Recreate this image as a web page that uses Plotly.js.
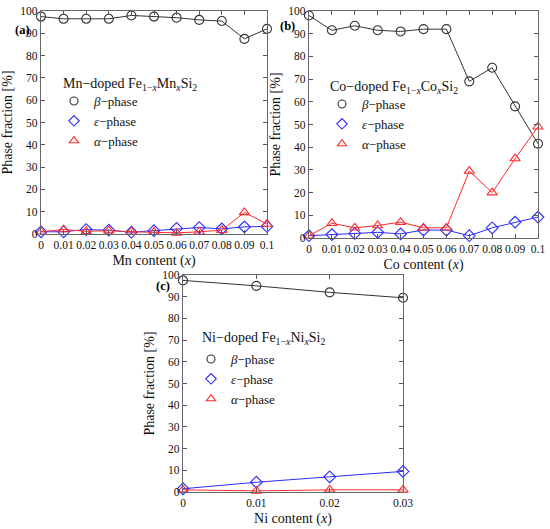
<!DOCTYPE html>
<html>
<head>
<meta charset="utf-8">
<script src="https://cdn.plot.ly/plotly-3.0.1.min.js"></script>
<style>html,body{margin:0;padding:0;background:#fff;}#plot{width:550px;height:529px;}</style>
</head>
<body>
<div id="plot"></div>
<script>
// Panel (a): Mn-doped
const xMn = [0, 0.01, 0.02, 0.03, 0.04, 0.05, 0.06, 0.07, 0.08, 0.09, 0.1];
const betaMn = [97.5, 96.5, 96.5, 96.5, 98, 97.5, 97, 96, 95.5, 87.5, 92];
const epsMn = [1, 1, 2, 1.7, 0.8, 1.5, 2.5, 2.9, 2.3, 3.2, 3.4];
const alphaMn = [1, 2, 1.2, 1.5, 1, 0.9, 0.5, 1, 1.7, 9.7, 4.5];
// Panel (b): Co-doped
const xCo = [0, 0.01, 0.02, 0.03, 0.04, 0.05, 0.06, 0.07, 0.08, 0.09, 0.1];
const betaCo = [98, 91.5, 93.5, 91.5, 91, 92, 92, 69, 75, 58, 41.5];
const epsCo = [1, 1.5, 2, 2.5, 1.8, 3.5, 3.5, 1, 4.5, 7, 9.2];
const alphaCo = [1, 6.5, 4.5, 5.5, 7, 4.5, 4.5, 29.5, 20, 35, 49];
// Panel (c): Ni-doped
const xNi = [0, 0.01, 0.02, 0.03];
const betaNi = [97.5, 95, 92, 89.5];
const epsNi = [1.5, 4.5, 7, 9.5];
const alphaNi = [1, 0.5, 1, 1];

const xTicksMn = [0, 0.01, 0.02, 0.03, 0.04, 0.05, 0.06, 0.07, 0.08, 0.09, 0.1];
const xTickTextMn = ['0', '0.01', '0.02', '0.03', '0.04', '0.05', '0.06', '0.07', '0.08', '0.09', '0.1'];
const xTicksNi = [0, 0.01, 0.02, 0.03];
const xTickTextNi = ['0', '0.01', '0.02', '0.03'];
const yTicks = [0, 10, 20, 30, 40, 50, 60, 70, 80, 90, 100];

const phaseNames = ['<i>β</i>−phase', '<i>ε</i>−phase', '<i>α</i>−phase'];
const colors = ['#333333', '#2b2bff', '#ff2b2b'];
const symbols = ['circle-open', 'diamond-open', 'triangle-up-open'];
const sizes = [9, 9, 9];

const FONT = 'Liberation Serif';
const W = 550, H = 529;

const traces = [];
function addPanel(xs, series, xa, ya, legName) {
  series.forEach((ys, i) => {
    traces.push({
      type: 'scatter', mode: 'lines+markers', x: xs, y: ys, xaxis: xa, yaxis: ya,
      line: {color: colors[i], width: 1},
      marker: {symbol: symbols[i], size: sizes[i], color: colors[i], line: {width: 1.1, color: colors[i]}},
      showlegend: false, cliponaxis: false
    });
  });
  series.forEach((ys, i) => {
    traces.push({
      type: 'scatter', mode: 'markers', x: [null], y: [null], xaxis: xa, yaxis: ya,
      name: phaseNames[i], legend: legName,
      marker: {symbol: symbols[i], size: 8, color: colors[i], line: {width: 1.1, color: colors[i]}},
      showlegend: true
    });
  });
}
addPanel(xMn, [betaMn, epsMn, alphaMn], 'x', 'y', 'legend');
addPanel(xCo, [betaCo, epsCo, alphaCo], 'x2', 'y2', 'legend2');
addPanel(xNi, [betaNi, epsNi, alphaNi], 'x3', 'y3', 'legend3');

function px(x) { return x / W; }
function py(y) { return 1 - y / H; }

function xAxis(domain, anchor, range, tv, tt, title) {
  return {
    domain: domain, anchor: anchor, range: range, tickvals: tv, ticktext: tt, tickangle: 0,
    ticks: 'inside', ticklen: 4, tickcolor: '#555', mirror: 'ticks', showline: true, linecolor: '#666', linewidth: 1.3,
    showgrid: false, zeroline: false, tickfont: {family: FONT, size: 11.5, color: '#111'},
    title: {text: title, font: {family: FONT, size: 14, color: '#111'}, standoff: 5}, automargin: false
  };
}
function yAxis(domain, anchor) {
  return {
    domain: domain, anchor: anchor, range: [0, 100], tickvals: yTicks,
    ticks: 'inside', ticklen: 4, tickcolor: '#555', mirror: 'ticks', showline: true, linecolor: '#666', linewidth: 1.3,
    showgrid: false, zeroline: false, tickfont: {family: FONT, size: 11.5, color: '#111'},
    title: {text: 'Phase fraction [%]', font: {family: FONT, size: 14, color: '#111'}, standoff: 4}, automargin: false
  };
}

const legendStyle = (x, y) => ({
  x: x, y: y, xanchor: 'left', yanchor: 'top', bgcolor: 'rgba(0,0,0,0)',
  font: {family: FONT, size: 13, color: '#111'}, itemwidth: 30, tracegroupgap: 0
});

const layout = {
  width: W, height: H, margin: {l: 0, r: 0, t: 0, b: 0},
  paper_bgcolor: '#fff', plot_bgcolor: '#fff', showlegend: true,
  font: {family: FONT, color: '#111'},
  xaxis: xAxis([px(41), px(267)], 'y', [0, 0.1], xTicksMn, xTickTextMn, 'Mn content (<i>x</i>)'),
  yaxis: yAxis([py(234), py(11)], 'x'),
  xaxis2: xAxis([px(309), px(538)], 'y2', [0, 0.1], xTicksMn, xTickTextMn, 'Co content (<i>x</i>)'),
  yaxis2: yAxis([py(238), py(11)], 'x2'),
  xaxis3: xAxis([px(183), px(403)], 'y3', [0, 0.03], xTicksNi, xTickTextNi, 'Ni content (<i>x</i>)'),
  yaxis3: yAxis([py(492), py(275)], 'x3'),
  legend: legendStyle(px(54), py(86)),
  legend2: legendStyle(px(322), py(89)),
  legend3: legendStyle(px(191), py(344)),
  annotations: [
    {text: '<b>(a)</b>', x: px(13), y: py(21), xref: 'paper', yref: 'paper', showarrow: false, font: {family: FONT, size: 12.5, color: '#000'}},
    {text: '<b>(b)</b>', x: px(287), y: py(17), xref: 'paper', yref: 'paper', showarrow: false, font: {family: FONT, size: 12.5, color: '#000'}},
    {text: '<b>(c)</b>', x: px(154), y: py(286), xref: 'paper', yref: 'paper', showarrow: false, font: {family: FONT, size: 12.5, color: '#000'}},
    {text: 'Mn−doped Fe<sub>1−<i>x</i></sub>Mn<sub><i>x</i></sub>Si<sub>2</sub>', x: px(61), y: py(74), xref: 'paper', yref: 'paper', xanchor: 'left', showarrow: false, font: {family: FONT, size: 14, color: '#111'}},
    {text: 'Co−doped Fe<sub>1−<i>x</i></sub>Co<sub><i>x</i></sub>Si<sub>2</sub>', x: px(328), y: py(77), xref: 'paper', yref: 'paper', xanchor: 'left', showarrow: false, font: {family: FONT, size: 14, color: '#111'}},
    {text: 'Ni−doped Fe<sub>1−<i>x</i></sub>Ni<sub><i>x</i></sub>Si<sub>2</sub>', x: px(200), y: py(338), xref: 'paper', yref: 'paper', xanchor: 'left', showarrow: false, font: {family: FONT, size: 14, color: '#111'}}
  ]
};

Plotly.newPlot('plot', traces, layout, {staticPlot: true, displayModeBar: false});
</script>
</body>
</html>
